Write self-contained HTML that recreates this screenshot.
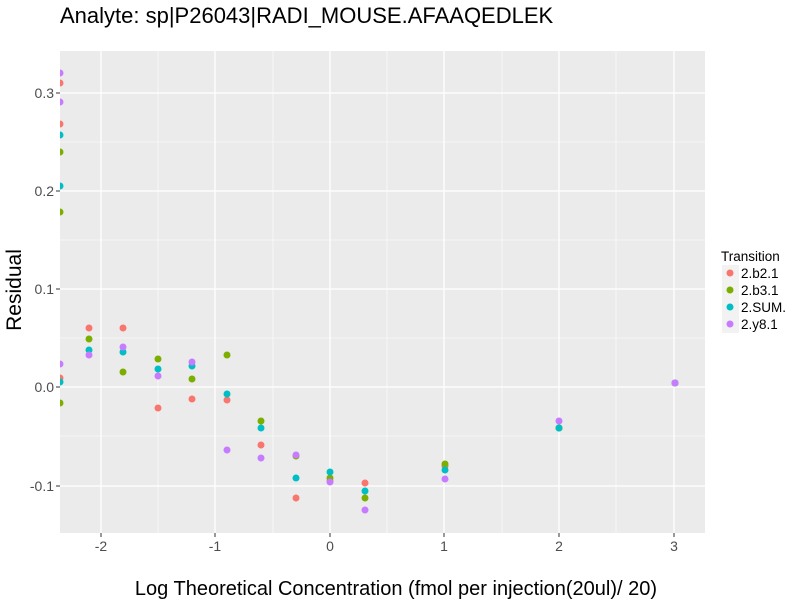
<!DOCTYPE html>
<html><head><style>body{margin:0;background:#fff}svg{display:block;font-family:"Liberation Sans",sans-serif}</style></head><body>
<svg width="800" height="600" xmlns="http://www.w3.org/2000/svg">
<defs><clipPath id="c"><rect x="60" y="51" width="645" height="482"/></clipPath></defs>
<rect x="60" y="51" width="645" height="482" fill="#EBEBEB"/>
<g stroke="#fff" stroke-width="0.6">
<line x1="60" x2="705" y1="142" y2="142"/><line x1="60" x2="705" y1="240" y2="240"/><line x1="60" x2="705" y1="338" y2="338"/><line x1="60" x2="705" y1="436" y2="436"/>
<line y1="51" y2="533" x1="158" x2="158"/><line y1="51" y2="533" x1="273" x2="273"/><line y1="51" y2="533" x1="387" x2="387"/><line y1="51" y2="533" x1="502" x2="502"/><line y1="51" y2="533" x1="616" x2="616"/>
</g>
<g stroke="#fff" stroke-width="1.3">
<line x1="60" x2="705" y1="93" y2="93"/><line x1="60" x2="705" y1="191" y2="191"/><line x1="60" x2="705" y1="289" y2="289"/><line x1="60" x2="705" y1="387" y2="387"/><line x1="60" x2="705" y1="486" y2="486"/>
<line y1="51" y2="533" x1="101" x2="101"/><line y1="51" y2="533" x1="215" x2="215"/><line y1="51" y2="533" x1="330" x2="330"/><line y1="51" y2="533" x1="444" x2="444"/><line y1="51" y2="533" x1="559" x2="559"/><line y1="51" y2="533" x1="674" x2="674"/>
</g>
<g clip-path="url(#c)">
<g fill="#F8766D"><circle cx="60" cy="83" r="3.5"/><circle cx="60" cy="124" r="3.5"/><circle cx="60" cy="378" r="3.5"/><circle cx="89" cy="328" r="3.5"/><circle cx="123" cy="328" r="3.5"/><circle cx="158" cy="408" r="3.5"/><circle cx="192" cy="399" r="3.5"/><circle cx="227" cy="400" r="3.5"/><circle cx="261" cy="445" r="3.5"/><circle cx="296" cy="498" r="3.5"/><circle cx="330" cy="481" r="3.5"/><circle cx="365" cy="483" r="3.5"/><circle cx="445" cy="466" r="3.5"/><circle cx="559" cy="428" r="3.5"/><circle cx="675" cy="383" r="3.5"/></g>
<g fill="#7CAE00"><circle cx="60" cy="152" r="3.5"/><circle cx="60" cy="212" r="3.5"/><circle cx="60" cy="403" r="3.5"/><circle cx="89" cy="339" r="3.5"/><circle cx="123" cy="372" r="3.5"/><circle cx="158" cy="359" r="3.5"/><circle cx="192" cy="379" r="3.5"/><circle cx="227" cy="355" r="3.5"/><circle cx="261" cy="421" r="3.5"/><circle cx="296" cy="456" r="3.5"/><circle cx="330" cy="478" r="3.5"/><circle cx="365" cy="498" r="3.5"/><circle cx="445" cy="464" r="3.5"/><circle cx="559" cy="428" r="3.5"/><circle cx="675" cy="383" r="3.5"/></g>
<g fill="#00BFC4"><circle cx="60" cy="135" r="3.5"/><circle cx="60" cy="186" r="3.5"/><circle cx="60" cy="382" r="3.5"/><circle cx="89" cy="350" r="3.5"/><circle cx="123" cy="352" r="3.5"/><circle cx="158" cy="369" r="3.5"/><circle cx="192" cy="366" r="3.5"/><circle cx="227" cy="394" r="3.5"/><circle cx="261" cy="428" r="3.5"/><circle cx="296" cy="478" r="3.5"/><circle cx="330" cy="472" r="3.5"/><circle cx="365" cy="491" r="3.5"/><circle cx="445" cy="470" r="3.5"/><circle cx="559" cy="428" r="3.5"/><circle cx="675" cy="383" r="3.5"/></g>
<g fill="#C77CFF"><circle cx="60" cy="73" r="3.5"/><circle cx="60" cy="102" r="3.5"/><circle cx="60" cy="364" r="3.5"/><circle cx="89" cy="355" r="3.5"/><circle cx="123" cy="347" r="3.5"/><circle cx="158" cy="376" r="3.5"/><circle cx="192" cy="362" r="3.5"/><circle cx="227" cy="450" r="3.5"/><circle cx="261" cy="458" r="3.5"/><circle cx="296" cy="455" r="3.5"/><circle cx="330" cy="482" r="3.5"/><circle cx="365" cy="510" r="3.5"/><circle cx="445" cy="479" r="3.5"/><circle cx="559" cy="421" r="3.5"/><circle cx="675" cy="383" r="3.5"/></g>
</g>
<g stroke="#333" stroke-width="1">
<line x1="56" x2="60" y1="93" y2="93"/><line x1="56" x2="60" y1="191" y2="191"/><line x1="56" x2="60" y1="289" y2="289"/><line x1="56" x2="60" y1="387" y2="387"/><line x1="56" x2="60" y1="486" y2="486"/>
<line y1="533" y2="537" x1="101" x2="101"/><line y1="533" y2="537" x1="215" x2="215"/><line y1="533" y2="537" x1="330" x2="330"/><line y1="533" y2="537" x1="444" x2="444"/><line y1="533" y2="537" x1="559" x2="559"/><line y1="533" y2="537" x1="674" x2="674"/>
</g>
<g font-size="14" fill="#4D4D4D" text-anchor="end">
<text x="54" y="98">0.3</text><text x="54" y="196">0.2</text><text x="54" y="294">0.1</text><text x="54" y="392">0.0</text><text x="54" y="491">-0.1</text>
</g>
<g font-size="14" fill="#4D4D4D" text-anchor="middle">
<text x="101" y="551">-2</text><text x="215" y="551">-1</text><text x="330" y="551">0</text><text x="444" y="551">1</text><text x="559" y="551">2</text><text x="674" y="551">3</text>
</g>
<text x="60" y="23" font-size="22" fill="#000">Analyte: sp|P26043|RADI_MOUSE.AFAAQEDLEK</text>
<text x="396" y="595" font-size="20" text-anchor="middle" fill="#000">Log Theoretical Concentration (fmol per injection(20ul)/ 20)</text>
<text transform="translate(21,290) rotate(-90)" font-size="21" text-anchor="middle" fill="#000">Residual</text>
<text x="721" y="261" font-size="13.5" fill="#000">Transition</text>
<g fill="#F2F2F2"><rect x="722" y="265" width="17" height="17"/><rect x="722" y="282" width="17" height="17"/><rect x="722" y="299" width="17" height="17"/><rect x="722" y="316" width="17" height="17"/></g>
<circle cx="730" cy="273" r="3.5" fill="#F8766D"/><circle cx="730" cy="290" r="3.5" fill="#7CAE00"/><circle cx="730" cy="307" r="3.5" fill="#00BFC4"/><circle cx="730" cy="324" r="3.5" fill="#C77CFF"/>
<g font-size="13.5" fill="#000"><text x="741" y="278">2.b2.1</text><text x="741" y="295">2.b3.1</text><text x="741" y="312">2.SUM.</text><text x="741" y="329">2.y8.1</text></g>
</svg>
</body></html>
